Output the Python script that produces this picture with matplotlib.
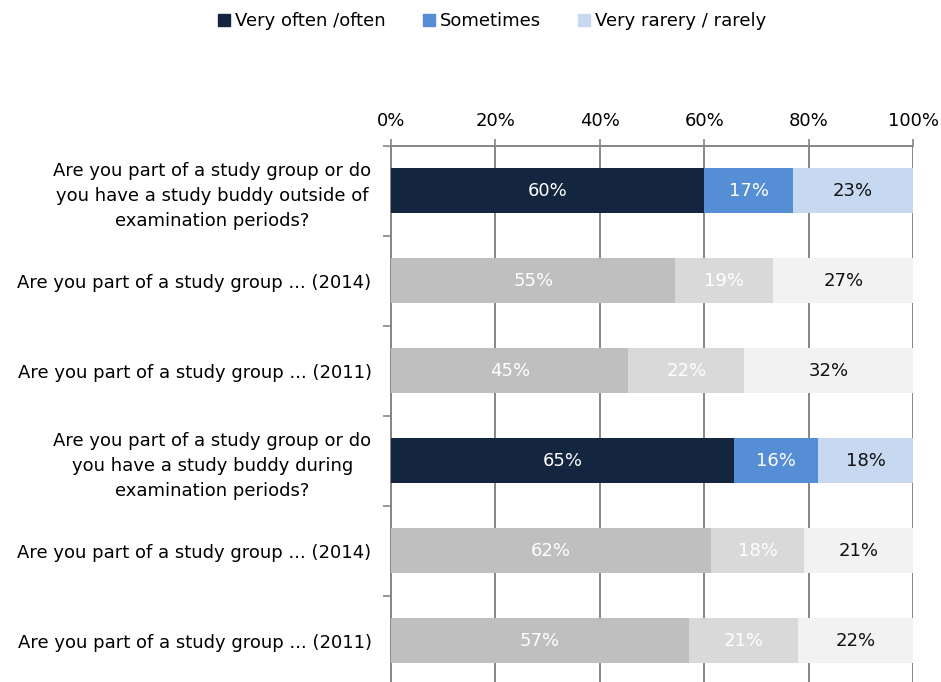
import numpy as np
import matplotlib.pyplot as plt

questions = [
    "Are you part of a study group or do\nyou have a study buddy outside of\nexamination periods?",
    "Are you part of a study group ... (2014)",
    "Are you part of a study group ... (2011)",
    "Are you part of a study group or do\nyou have a study buddy during\nexamination periods?",
    "Are you part of a study group ... (2014)",
    "Are you part of a study group ... (2011)",
]
often = [60, 55, 45, 65, 62, 57]
sometimes = [17, 19, 22, 16, 18, 21]
rarely = [23, 27, 32, 18, 21, 22]
series_names = ["Very often /often", "Sometimes", "Very rarery / rarely"]
current_rows = [0, 3]

current_colors = ["#14253F", "#558ED5", "#C6D9F1"]
past_colors = ["#BFBFBF", "#D9D9D9", "#F2F2F2"]
text_colors = ["white", "white", "#111111"]

plt.rcParams['font.family'] = ['DejaVu Sans']
fig = plt.figure(figsize=(9.41, 6.82), dpi=100)
ax = fig.add_axes([391 / 941, (682 - 145.5 - 540) / 682, (913 - 391) / 941, 540 / 682])

values = np.array([often, sometimes, rarely], dtype=float)
shares = values / values.sum(axis=0) * 100  # each row stacked to 100%
ypos = np.arange(len(questions))

left = np.zeros(len(questions))
for k in range(3):
    colors = [current_colors[k] if i in current_rows else past_colors[k]
              for i in range(len(questions))]
    ax.barh(ypos, shares[k], left=left, height=0.5, color=colors,
            zorder=3, label=series_names[k])
    for i in range(len(questions)):
        ax.text(left[i] + shares[k][i] / 2, ypos[i], f"{int(values[k][i])}%",
                ha='center', va='center', fontsize=13,
                color=text_colors[k], zorder=4)
    left += shares[k]

ax.set_xlim(0, 100)
ax.set_ylim(len(questions) - 0.5, -0.5)
ax.xaxis.tick_top()
ax.set_xticks(np.arange(0, 101, 20))
ax.set_xticklabels([f"{t}%" for t in range(0, 101, 20)])
ax.tick_params(axis='x', length=5, width=1.2, color='#868686',
               labelsize=13, pad=6)
ax.grid(axis='x', color='#868686', linewidth=1.4, zorder=0)

ax.set_yticks(ypos)
ax.set_yticklabels(questions, fontsize=13, multialignment='center',
                   linespacing=1.5)
ax.set_yticks(np.arange(-0.5, len(questions) - 0.5 + 0.01, 1), minor=True)
ax.tick_params(axis='y', which='major', length=0, pad=14)
ax.tick_params(axis='y', which='minor', length=6, width=1.2, color='#868686')

for side in ['right', 'bottom']:
    ax.spines[side].set_visible(False)
ax.spines['top'].set_color('#868686')
ax.spines['top'].set_linewidth(1.4)
ax.spines['left'].set_color('#868686')
ax.spines['left'].set_linewidth(1.4)

handles = [plt.Line2D([], [], marker='s', linestyle='', markersize=8,
                      color=c) for c in current_colors]
fig.legend(handles, series_names, loc='center', bbox_to_anchor=(490 / 941, 1 - 21 / 682),
           ncol=3, frameon=False, fontsize=13, handletextpad=0.0,
           handlelength=1.2, columnspacing=1.8)

fig.savefig("out.png", dpi=100)
